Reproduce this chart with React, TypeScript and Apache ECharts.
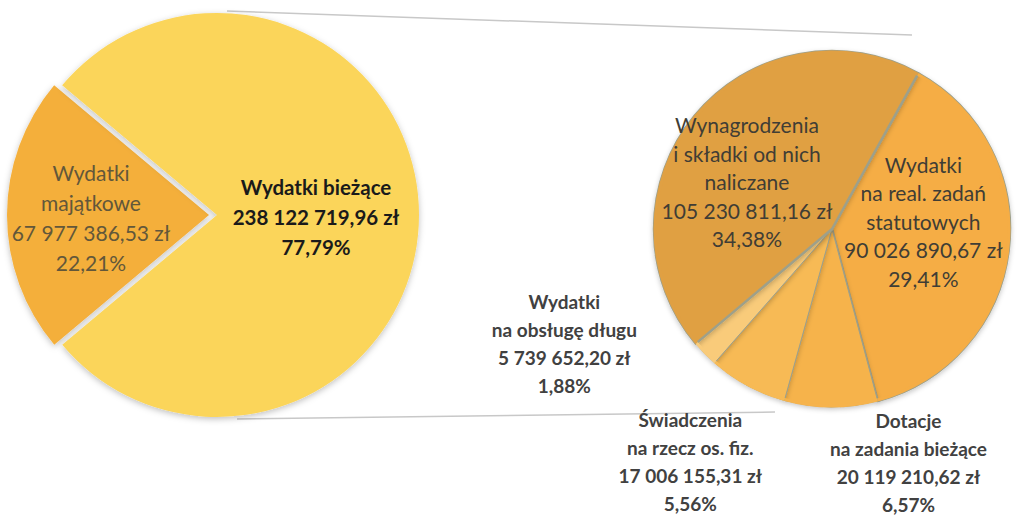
import React, { useEffect, useRef } from "react";
import * as echarts from "echarts";

// ---- data ----
const mainNames = ["Wydatki\nmajątkowe", "Wydatki bieżące"];
const mainValues = [67977386.53, 238122719.96];
const mainPercents = ["22,21%", "77,79%"];

const detailNames = [
  "Wydatki\nna real. zadań\nstatutowych",
  "Dotacje\nna zadania bieżące",
  "Świadczenia\nna rzecz os. fiz.",
  "Wydatki\nna obsługę długu",
  "Wynagrodzenia\ni składki od nich\nnaliczane",
];
const detailValues = [90026890.67, 20119210.62, 17006155.31, 5739652.2, 105230811.16];
const detailPercents = ["29,41%", "6,57%", "5,56%", "1,88%", "34,38%"];

// ---- layout / style (not data) ----
const W = 1019;
const H = 524;
const LEFT_C = [217, 215];
const LEFT_R = 202;
const RIGHT_C = [832, 229];
const RIGHT_R = 178;

const mainColors = ["#F4AF3A", "#FBD55A"];
const detailColors = ["#F5AD45", "#F6B34C", "#F7BA55", "#F9CB7A", "#E0A043"];
const mainLabelOffsets = [[-14, 2], [-5, 2]];
const detailLabelOffsets = [[0, -19], [77, 142], [-98, 152], [-202, 50], [-14, 11]];
const insideDetail = [true, false, false, false, true];

const FONT = "Lato, 'Open Sans', sans-serif";

function fmtZl(v: number): string {
  const [i, d] = v.toFixed(2).split(".");
  return i.replace(/\B(?=(\d{3})+(?!\d))/g, " ") + "," + d + " zł";
}

export default function App() {
  const ref = useRef<HTMLDivElement>(null);
  useEffect(() => {
    document.body.style.margin = "0";
    const chart = echarts.init(ref.current!, null, { renderer: "svg" });
    const option: any = {
      animation: false,
      backgroundColor: "#ffffff",
      graphic: [
        {
          type: "line",
          shape: { x1: LEFT_C[0] + 10, y1: LEFT_C[1] - LEFT_R - 2, x2: 912, y2: 35 },
          style: { stroke: "#c8c8c8", lineWidth: 1.5 },
          z: 0,
        },
        {
          type: "line",
          shape: { x1: LEFT_C[0] + 20, y1: LEFT_C[1] + LEFT_R + 2, x2: 775, y2: 412 },
          style: { stroke: "#c8c8c8", lineWidth: 1.5 },
          z: 0,
        },
      ],
      series: [
        {
          type: "pie",
          center: LEFT_C,
          radius: LEFT_R,
          startAngle: 220,
          clockwise: true,
          selectedMode: "single",
          selectedOffset: 8,
          emphasis: { disabled: true },
          itemStyle: {
            shadowBlur: 6,
            shadowColor: "rgba(0,0,0,0.25)",
            shadowOffsetY: 2,
          },
          label: {
            show: true,
            position: "inside",
            fontFamily: FONT,
            fontSize: 21,
            lineHeight: 30,
          },
          labelLine: { show: false },
          labelLayout: (p: any) => ({
            dx: mainLabelOffsets[p.dataIndex][0],
            dy: mainLabelOffsets[p.dataIndex][1],
          }),
          data: mainNames.map((n, i) => ({
            name: n,
            value: mainValues[i],
            selected: i === 0,
            itemStyle: { color: mainColors[i] },
            label: {
              formatter: () => `${n}\n${fmtZl(mainValues[i])}\n${mainPercents[i]}`,
              color: i === 0 ? "#62573a" : "#1a1a1a",
              fontWeight: i === 0 ? "normal" : "bold",
              fontSize: i === 0 ? 21 : 20.5,
            },
          })),
        },
        {
          type: "pie",
          center: RIGHT_C,
          radius: RIGHT_R,
          startAngle: 61,
          clockwise: true,
          emphasis: { disabled: true },
          itemStyle: {
            borderColor: "#9ea08a",
            borderWidth: 1,
            shadowBlur: 5,
            shadowColor: "rgba(0,0,0,0.22)",
            shadowOffsetY: 2,
          },
          label: {
            show: true,
            position: "inside",
            fontFamily: FONT,
          },
          labelLine: { show: false },
          labelLayout: (p: any) => ({
            dx: detailLabelOffsets[p.dataIndex][0],
            dy: detailLabelOffsets[p.dataIndex][1],
          }),
          data: detailNames.map((n, i) => ({
            name: n,
            value: detailValues[i],
            itemStyle: {
              color: detailColors[i],
              borderWidth: insideDetail[i] ? 2.5 : 1,
            },
            label: {
              formatter: () => `${n}\n${fmtZl(detailValues[i])}\n${detailPercents[i]}`,
              color: insideDetail[i] ? "#403d35" : "#414141",
              fontWeight: insideDetail[i] ? "normal" : "bold",
              fontSize: insideDetail[i] ? 21 : 19,
              lineHeight: insideDetail[i] ? 28.5 : 28,
            },
          })),
        },
        {
          // rim overlay: hides the outer arc of the slice borders
          type: "pie",
          center: RIGHT_C,
          radius: [RIGHT_R - 2.5, RIGHT_R + 0.5],
          startAngle: 61,
          clockwise: true,
          silent: true,
          emphasis: { disabled: true },
          label: { show: false },
          labelLine: { show: false },
          data: detailNames.map((n, i) => ({
            name: n,
            value: detailValues[i],
            itemStyle: { color: detailColors[i] },
          })),
        },
      ],
    };
    chart.setOption(option);
    return () => chart.dispose();
  }, []);
  return <div ref={ref} style={{ width: W, height: H }} />;
}
